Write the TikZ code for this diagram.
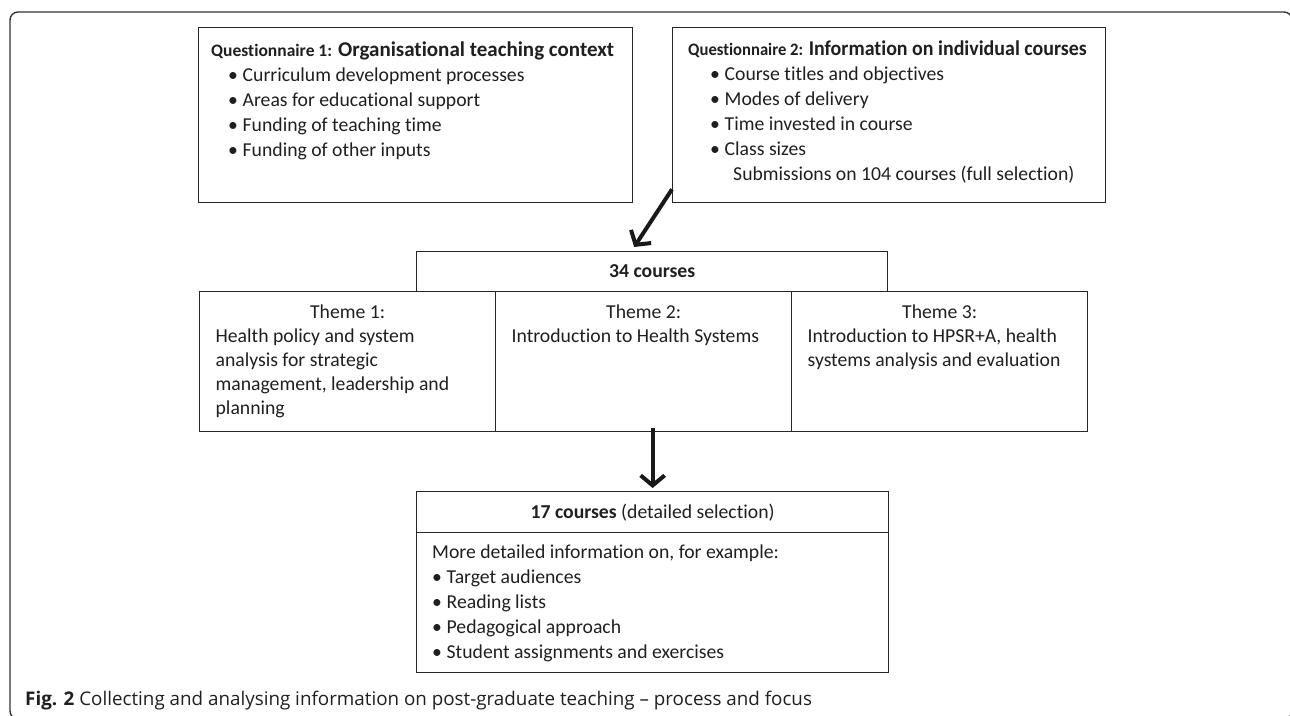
\documentclass[tikz,border=0pt]{standalone}
\usepackage{fontspec}
\usepackage{graphicx}
\setmainfont{Carlito}[Ligatures=NoCommon]
\newfontfamily\capfont{Open Sans}
\usetikzlibrary{arrows.meta,calc}
\newcommand{\mybul}{\makebox[14.5pt][l]{•}}
\newcommand{\qsmall}{\fontsize{17.5}{25}\selectfont}
\newcommand{\qlarge}{\fontsize{21}{25}\selectfont}
\tikzset{
  box/.style={draw=black!85, line width=1.3pt, inner sep=0pt, anchor=north west},
  txt/.style={inner sep=0pt, anchor=base west, text=black!88},
  ctxt/.style={inner sep=0pt, anchor=base, text=black!88},
  body/.style={font=\fontsize{19.7}{25}\selectfont},
  thm/.style={font=\fontsize{19.7}{24}\selectfont},
  arr/.style={line width=4pt, black!90, -{Straight Barb[length=10pt,width=24pt]}},
  frame/.style={draw=black!80, line width=1.4pt, rounded corners=8pt},
}
\begin{document}
\begin{tikzpicture}[x=1pt,y=-1pt]
\useasboundingbox (0,0) rectangle (1290,715);
\clip (0,0) rectangle (1290,715);
\draw[frame] (10,12) rectangle (1292,719);

% top boxes
\node[box, minimum width=434pt, minimum height=175pt] (q1) at (198,27) {};
\node[box, minimum width=433pt, minimum height=175pt] (q2) at (672,27) {};
\node[txt, body] (q1t) at (211,56) {\parbox[t]{420pt}{%
  \textbf{{\qsmall Questionnaire 1:} {\qlarge Organisational teaching context}}\\
  \hspace*{17pt}\mybul Curriculum development processes\\
  \hspace*{17pt}\mybul Areas for educational support\\
  \hspace*{17pt}\mybul Funding of teaching time\\
  \hspace*{17pt}\mybul Funding of other inputs}};
\node[txt, body] (q2t) at (688,55) {\parbox[t]{420pt}{%
  \scalebox{0.95}[1]{\textbf{{\qsmall Questionnaire 2:} {\qlarge Information on individual courses}}}\\
  \hspace*{22pt}\mybul Course titles and objectives\\
  \hspace*{22pt}\mybul Modes of delivery\\
  \hspace*{22pt}\mybul Time invested in course\\
  \hspace*{22pt}\mybul Class sizes\\
  \hspace*{45pt}Submissions on 104 courses (full selection)}};

% 34 courses and themes
\node[box, minimum width=471pt, minimum height=40pt] (c34) at (416,251) {};
\node[ctxt, body] (c34t) at ($(c34.center)+(0,6)$) {\textbf{34 courses}};
\node[box, minimum width=296pt, minimum height=140pt] (t1) at (199,291) {};
\node[box, minimum width=296pt, minimum height=140pt] (t2) at (495,291) {};
\node[box, minimum width=296pt, minimum height=140pt] (t3) at (791,291) {};
\node[ctxt, thm] (t1t) at ($(t1.north)+(0,27)$) {\parbox[t]{264pt}{\centering Theme 1:\par\raggedright
  Health policy and system\\ analysis for strategic\\ management, leadership and\\ planning}};
\node[ctxt, thm] (t2t) at ($(t2.north)+(0,27)$) {\parbox[t]{264pt}{\centering Theme 2:\par\raggedright
  Introduction to Health Systems}};
\node[ctxt, thm] (t3t) at ($(t3.north)+(0,27)$) {\parbox[t]{264pt}{\centering Theme 3:\par\raggedright
  Introduction to HPSR+A, health\\ systems analysis and evaluation}};

% 17 courses
\node[box, minimum width=472pt, minimum height=41pt] (c17) at (416,491) {};
\node[box, minimum width=472pt, minimum height=140pt] (c17b) at (416,532) {};
\node[ctxt, body] (c17t) at ($(c17.center)+(0,6)$) {\textbf{17 courses} (detailed selection)};
\node[txt, body] (c17bt) at (432,558) {\parbox[t]{440pt}{%
  More detailed information on, for example:\\
  \mybul Target audiences\\
  \mybul Reading lists\\
  \mybul Pedagogical approach\\
  \mybul Student assignments and exercises}};

% arrows
\coordinate (a1s) at ($(q2.south west)+(0,-14)$);
\coordinate (a1e) at ($(c34.north)+(-18,-4)$);
\draw[arr] (a1s) -- (a1e);
\coordinate (a2s) at ($(t2.south -| c17.north)+(0,-4)$);
\coordinate (a2e) at ($(c17.north)+(0,-3)$);
\draw[arr] (a2s) -- (a2e);

% caption
\node[txt, font=\capfont\fontsize{18.8}{22}\selectfont] (cap) at (25,705) {\textbf{Fig. 2} Collecting and analysing information on post-graduate teaching – process and focus};
\end{tikzpicture}
\end{document}
